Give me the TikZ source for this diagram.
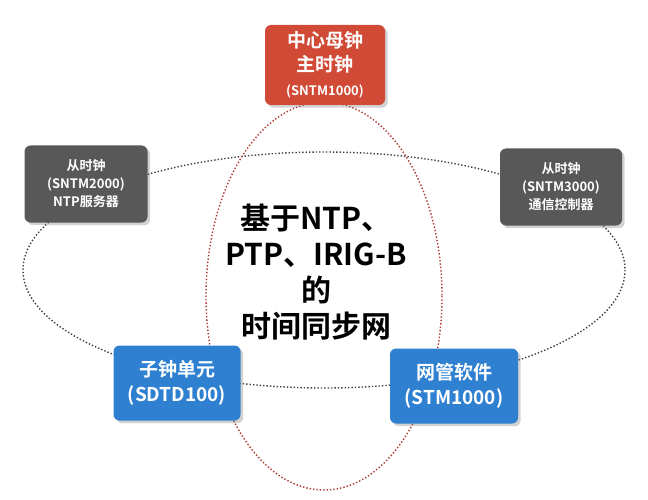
\documentclass[tikz,border=0pt]{standalone}
\usepackage{fontspec}
\setmainfont{Noto Sans CJK SC}[BoldFont={Noto Sans CJK SC Bold}]
\usetikzlibrary{shadows}
\definecolor{rb}{HTML}{D04A35}
\definecolor{gb}{HTML}{585858}
\definecolor{bb}{HTML}{2F80D1}
\definecolor{rl}{HTML}{B03A30}
\definecolor{gl}{HTML}{404040}
\tikzset{
  box/.style={rounded corners=6pt, text=white, align=center, inner sep=0pt, drop shadow={opacity=0.35}},
  ring/.style={dotted, line width=1.4pt}
}
\begin{document}
\begin{tikzpicture}[x=1pt,y=-1pt]
\useasboundingbox (0,0) rectangle (648,500);
\fill[white] (0,0) rectangle (648,500);
\draw[ring, gl] (324,270) ellipse [x radius=301, y radius=118];
\draw[ring, rl] (324,296) ellipse [x radius=118, y radius=194];
\node[box, fill=rb, minimum width=120pt, minimum height=80pt, font=\bfseries\fontsize{19}{24}\selectfont] (top) at (325,65)
  {中心母钟\\主时钟\\{\fontsize{13}{16}\selectfont (SNTM1000)}};
\node[box, fill=gb, minimum width=123pt, minimum height=77pt, font=\bfseries\fontsize{13}{18}\selectfont] (l) at (86,184)
  {从时钟\\(SNTM2000)\\NTP服务器};
\node[box, fill=gb, minimum width=122pt, minimum height=77pt, font=\bfseries\fontsize{13}{18}\selectfont] (r) at (561,187)
  {从时钟\\(SNTM3000)\\通信控制器};
\node[box, fill=bb, minimum width=127pt, minimum height=75pt, font=\bfseries\fontsize{19}{25}\selectfont] (bl) at (177,383)
  {子钟单元\\(SDTD100)};
\node[box, fill=bb, minimum width=128pt, minimum height=75pt, font=\bfseries\fontsize{19}{25}\selectfont] (br) at (454,386)
  {网管软件\\(STM1000)};
\node[align=center, font=\bfseries\fontsize{30}{36}\selectfont] (c) at (316,272)
  {基于NTP、\\PTP、IRIG-B\\的\\时间同步网};
\end{tikzpicture}
\end{document}
